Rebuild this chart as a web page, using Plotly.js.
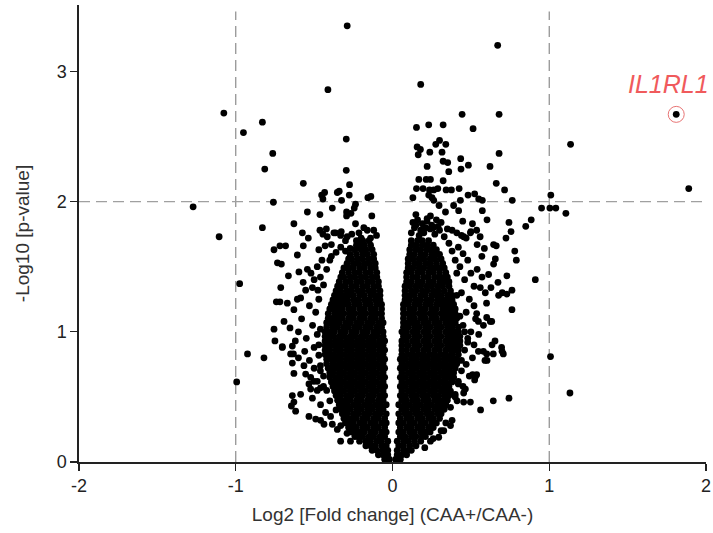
<!DOCTYPE html>
<html>
<head>
<meta charset="utf-8">
<script src="https://cdn.plot.ly/plotly-3.0.1.min.js"></script>
<style>html,body{margin:0;padding:0;background:#fff;}#chart{width:713px;height:533px;}</style>
</head>
<body>
<div id="chart"></div>
<script>
// ---- thresholds and ticks ----
const foldThresholds = [-1, 1];
const pThreshold = [2];
const xTickVals = [-2, -1, 0, 1, 2];
const xTickText = ['-2', '-1', '0', '1', '2'];
const yTickVals = [0, 1, 2, 3];
const yTickText = ['0', '1', '2', '3'];

// ---- highlighted gene ----
const highlightName = ['IL1RL1'];
const highlightX = [1.81];
const highlightY = [2.67];

// ---- dense core: rows of -log10 p, with log2 FC values in each row ----
const coreRowY = [0.02,0.055,0.09,0.125,0.16,0.195,0.23,0.265,0.30,0.335,0.37,0.405,0.44,0.475,0.51,0.545,0.58,0.615,0.65,0.685,0.72,0.755,0.79,0.825,0.86,0.895,0.93,0.965,1.00,1.035,1.07,1.105,1.14,1.175,1.21,1.245,1.28,1.315,1.35,1.385,1.42,1.455,1.49,1.525,1.56,1.595,1.63,1.665,1.70];
const coreLeftX = [
[-0.02,-0.05],
[-0.03,-0.06,-0.09],
[-0.03,-0.06,-0.10,-0.13],
[-0.04,-0.07,-0.11,-0.14,-0.17],
[-0.03,-0.07,-0.10,-0.14,-0.17,-0.21],
[-0.05,-0.08,-0.12,-0.15,-0.19,-0.22,-0.24],
[-0.04,-0.07,-0.11,-0.14,-0.18,-0.21,-0.24,-0.26],
[-0.05,-0.09,-0.12,-0.16,-0.19,-0.23,-0.26,-0.28],
[-0.04,-0.07,-0.11,-0.14,-0.18,-0.21,-0.25,-0.28,-0.30],
[-0.05,-0.09,-0.12,-0.16,-0.19,-0.23,-0.26,-0.29,-0.31],
[-0.04,-0.08,-0.11,-0.15,-0.18,-0.22,-0.25,-0.29,-0.32],
[-0.06,-0.09,-0.13,-0.16,-0.20,-0.23,-0.27,-0.30,-0.33],
[-0.04,-0.08,-0.11,-0.15,-0.18,-0.22,-0.25,-0.29,-0.32,-0.34],
[-0.06,-0.09,-0.13,-0.16,-0.20,-0.23,-0.27,-0.30,-0.33,-0.35],
[-0.05,-0.08,-0.12,-0.15,-0.19,-0.22,-0.26,-0.29,-0.33,-0.36],
[-0.06,-0.10,-0.13,-0.17,-0.20,-0.24,-0.27,-0.31,-0.34,-0.37],
[-0.05,-0.08,-0.12,-0.15,-0.19,-0.22,-0.26,-0.29,-0.33,-0.36,-0.38],
[-0.06,-0.10,-0.13,-0.17,-0.20,-0.24,-0.27,-0.31,-0.34,-0.37,-0.39],
[-0.05,-0.08,-0.12,-0.15,-0.19,-0.22,-0.26,-0.29,-0.33,-0.36,-0.40],
[-0.06,-0.10,-0.13,-0.17,-0.20,-0.24,-0.27,-0.31,-0.34,-0.38,-0.40],
[-0.05,-0.08,-0.12,-0.15,-0.19,-0.22,-0.26,-0.29,-0.33,-0.36,-0.39,-0.41],
[-0.06,-0.10,-0.13,-0.17,-0.20,-0.24,-0.27,-0.31,-0.34,-0.38,-0.42],
[-0.05,-0.08,-0.12,-0.15,-0.19,-0.22,-0.26,-0.29,-0.33,-0.36,-0.39,-0.42],
[-0.06,-0.10,-0.13,-0.17,-0.20,-0.24,-0.27,-0.31,-0.34,-0.38,-0.41,-0.43],
[-0.05,-0.08,-0.12,-0.15,-0.19,-0.22,-0.26,-0.29,-0.33,-0.36,-0.40,-0.43],
[-0.06,-0.10,-0.13,-0.17,-0.20,-0.24,-0.27,-0.31,-0.34,-0.38,-0.41,-0.43],
[-0.05,-0.08,-0.12,-0.15,-0.19,-0.22,-0.26,-0.29,-0.33,-0.36,-0.40,-0.43],
[-0.06,-0.10,-0.13,-0.17,-0.20,-0.24,-0.27,-0.31,-0.34,-0.38,-0.41,-0.43],
[-0.06,-0.09,-0.12,-0.16,-0.19,-0.23,-0.26,-0.30,-0.33,-0.37,-0.40,-0.43],
[-0.07,-0.10,-0.14,-0.17,-0.21,-0.24,-0.28,-0.31,-0.35,-0.38,-0.42],
[-0.06,-0.09,-0.13,-0.16,-0.20,-0.23,-0.27,-0.30,-0.34,-0.37,-0.40,-0.42],
[-0.07,-0.11,-0.14,-0.18,-0.21,-0.25,-0.28,-0.32,-0.35,-0.38,-0.41],
[-0.07,-0.10,-0.13,-0.17,-0.20,-0.24,-0.27,-0.31,-0.34,-0.37,-0.41],
[-0.07,-0.11,-0.14,-0.18,-0.21,-0.25,-0.28,-0.32,-0.35,-0.38,-0.40],
[-0.07,-0.10,-0.14,-0.17,-0.21,-0.24,-0.28,-0.31,-0.34,-0.37,-0.39],
[-0.08,-0.11,-0.15,-0.18,-0.22,-0.25,-0.29,-0.32,-0.35,-0.38],
[-0.08,-0.11,-0.14,-0.18,-0.21,-0.25,-0.28,-0.31,-0.34,-0.37],
[-0.08,-0.12,-0.15,-0.19,-0.22,-0.26,-0.29,-0.33,-0.36],
[-0.09,-0.12,-0.16,-0.19,-0.23,-0.26,-0.30,-0.33,-0.35],
[-0.09,-0.13,-0.16,-0.20,-0.23,-0.27,-0.30,-0.34],
[-0.10,-0.13,-0.17,-0.20,-0.24,-0.27,-0.31,-0.33],
[-0.10,-0.14,-0.17,-0.21,-0.24,-0.28,-0.32],
[-0.11,-0.14,-0.18,-0.21,-0.25,-0.28,-0.31],
[-0.11,-0.15,-0.18,-0.22,-0.25,-0.29],
[-0.12,-0.15,-0.19,-0.22,-0.26,-0.28],
[-0.12,-0.16,-0.19,-0.23,-0.27],
[-0.13,-0.17,-0.20,-0.24],
[-0.14,-0.18,-0.21,-0.23],
[-0.15,-0.19,-0.21]
];
const coreRightX = [
[0.02,0.05],
[0.03,0.06,0.09],
[0.03,0.07,0.10,0.12],
[0.04,0.07,0.11,0.15],
[0.03,0.07,0.10,0.14,0.18],
[0.05,0.08,0.12,0.15,0.19,0.21],
[0.04,0.07,0.11,0.14,0.18,0.21,0.24],
[0.05,0.09,0.12,0.16,0.19,0.23,0.26],
[0.04,0.07,0.11,0.14,0.18,0.21,0.25,0.28],
[0.05,0.09,0.12,0.16,0.19,0.23,0.26,0.30],
[0.04,0.08,0.11,0.15,0.18,0.22,0.25,0.29,0.31],
[0.06,0.09,0.13,0.16,0.20,0.23,0.27,0.30,0.33],
[0.04,0.08,0.11,0.15,0.18,0.22,0.25,0.29,0.32,0.34],
[0.06,0.09,0.13,0.16,0.20,0.23,0.27,0.30,0.33,0.35],
[0.05,0.08,0.12,0.15,0.19,0.22,0.26,0.29,0.33,0.36],
[0.06,0.10,0.13,0.17,0.20,0.24,0.27,0.31,0.34,0.37],
[0.05,0.08,0.12,0.15,0.19,0.22,0.26,0.29,0.33,0.36],
[0.06,0.10,0.13,0.17,0.20,0.24,0.27,0.31,0.34,0.38],
[0.05,0.08,0.12,0.15,0.19,0.22,0.26,0.29,0.33,0.36,0.39],
[0.06,0.10,0.13,0.17,0.20,0.24,0.27,0.31,0.34,0.37,0.39],
[0.05,0.08,0.12,0.15,0.19,0.22,0.26,0.29,0.33,0.36,0.40],
[0.06,0.10,0.13,0.17,0.20,0.24,0.27,0.31,0.34,0.38,0.41],
[0.05,0.08,0.12,0.15,0.19,0.22,0.26,0.29,0.33,0.36,0.39,0.41],
[0.06,0.10,0.13,0.17,0.20,0.24,0.27,0.31,0.34,0.38,0.42],
[0.06,0.09,0.13,0.16,0.20,0.23,0.27,0.30,0.34,0.37,0.40,0.42],
[0.06,0.10,0.14,0.17,0.21,0.24,0.28,0.31,0.35,0.38,0.41,0.43],
[0.06,0.09,0.13,0.16,0.20,0.23,0.27,0.30,0.34,0.37,0.40,0.43],
[0.07,0.10,0.14,0.17,0.21,0.24,0.28,0.31,0.35,0.38,0.41,0.43],
[0.06,0.09,0.13,0.16,0.20,0.23,0.27,0.30,0.34,0.37,0.40,0.42],
[0.07,0.10,0.14,0.17,0.21,0.24,0.28,0.31,0.35,0.38,0.42],
[0.07,0.10,0.13,0.16,0.20,0.23,0.27,0.30,0.34,0.37,0.40],
[0.07,0.11,0.14,0.18,0.21,0.25,0.28,0.32,0.35,0.38,0.41],
[0.07,0.10,0.13,0.17,0.20,0.24,0.27,0.31,0.34,0.37,0.40],
[0.07,0.11,0.14,0.18,0.21,0.25,0.28,0.32,0.35,0.38,0.40],
[0.07,0.10,0.14,0.17,0.21,0.24,0.28,0.31,0.34,0.37,0.39],
[0.08,0.11,0.15,0.18,0.22,0.25,0.29,0.32,0.35,0.38],
[0.08,0.11,0.14,0.18,0.21,0.25,0.28,0.31,0.35,0.38],
[0.08,0.12,0.15,0.19,0.22,0.26,0.29,0.33,0.37],
[0.08,0.11,0.15,0.18,0.22,0.25,0.29,0.32,0.36],
[0.09,0.12,0.16,0.19,0.23,0.26,0.30,0.33,0.36],
[0.09,0.13,0.16,0.20,0.23,0.27,0.30,0.33,0.35],
[0.09,0.12,0.16,0.19,0.23,0.26,0.30,0.34],
[0.10,0.13,0.17,0.20,0.24,0.27,0.30,0.33],
[0.10,0.14,0.17,0.21,0.24,0.28,0.32],
[0.10,0.13,0.17,0.20,0.24,0.27,0.31],
[0.11,0.14,0.18,0.21,0.25,0.28,0.30],
[0.11,0.15,0.18,0.22,0.25,0.28],
[0.12,0.15,0.19,0.22,0.26],
[0.12,0.16,0.19,0.23]
];

// ---- scattered genes: [log2 FC, -log10 p] ----
const leftOutliers = [
[-0.289,3.35],[-0.412,2.86],[-1.076,2.68],[-0.951,2.53],[-0.83,2.61],[-0.764,2.37],[-0.815,2.25],
[-0.295,2.48],[-0.295,2.24],[-1.272,1.96],[-1.106,1.73],[-0.76,1.995],[-0.83,1.80],[-0.975,1.37],
[-0.925,0.83],[-0.82,0.80],[-0.994,0.615]
];
const leftUpper = [
[-0.569,2.14],[-0.452,2.05],[-0.433,2.07],[-0.444,2.02],[-0.352,2.07],[-0.34,2.08],[-0.274,2.13],
[-0.276,2.05],[-0.325,2.01],[-0.157,2.03],[-0.138,2.04],[-0.543,1.92],[-0.463,1.90],[-0.384,1.95],
[-0.236,1.98],[-0.244,1.95],[-0.293,1.92],[-0.265,1.91],[-0.293,1.89],[-0.132,1.89],[-0.629,1.83],
[-0.575,1.76],[-0.537,1.72],[-0.463,1.78],[-0.444,1.75],[-0.422,1.79],[-0.363,1.76],[-0.327,1.77],
[-0.236,1.83],[-0.183,1.80],[-0.161,1.78],[-0.102,1.74],[-0.374,1.76],[-0.331,1.74],[-0.289,1.73],
[-0.416,1.73],[-0.214,1.76],[-0.12,1.78],[-0.20,1.72],[-0.26,1.75],[-0.14,1.72],[-0.23,1.70],[-0.30,1.70]
];
const leftMid = [
[-0.756,1.63],[-0.718,1.66],[-0.682,1.66],[-0.734,1.53],[-0.709,1.52],[-0.607,1.59],[-0.569,1.66],
[-0.664,1.43],[-0.597,1.46],[-0.543,1.48],[-0.713,1.34],[-0.741,1.23],[-0.718,1.23],[-0.671,1.22],
[-0.629,1.17],[-0.607,1.25],[-0.586,1.26],[-0.692,1.08],[-0.654,1.03],[-0.756,1.02],[-0.75,0.93],
[-0.703,0.88],[-0.554,1.32],[-0.511,1.34],[-0.476,1.32],
[-0.47,1.63],[-0.43,1.66],[-0.39,1.67],[-0.36,1.61],[-0.33,1.65],[-0.39,1.58],[-0.30,1.62],[-0.27,1.64],
[-0.52,1.45],[-0.50,1.40],[-0.48,1.50],[-0.46,1.42],[-0.53,1.20],[-0.49,1.15],[-0.47,1.25],[-0.51,1.05],
[-0.48,0.98],[-0.55,0.95],[-0.58,1.10],[-0.60,1.00],[-0.62,0.93],[-0.45,1.55],[-0.42,1.48],[-0.40,1.55],
[-0.57,1.38],[-0.44,1.36],[-0.50,0.88],[-0.47,0.82],[-0.53,0.78],[-0.50,0.72],[-0.46,0.70],[-0.48,0.62],
[-0.44,0.58],[-0.56,0.85],[-0.60,0.80],[-0.47,0.90],[-0.46,1.02]
];
const leftLower = [
[-0.703,0.885],[-0.639,0.89],[-0.65,0.83],[-0.632,0.83],[-0.639,0.76],[-0.629,0.68],[-0.565,0.74],
[-0.554,0.675],[-0.522,0.65],[-0.533,0.60],[-0.501,0.62],[-0.522,0.56],[-0.48,0.55],[-0.459,0.57],
[-0.639,0.51],[-0.586,0.52],[-0.629,0.46],[-0.645,0.43],[-0.618,0.39],[-0.533,0.35],[-0.49,0.33],
[-0.459,0.32],[-0.437,0.29],[-0.384,0.29],[-0.352,0.25],[-0.331,0.16],[-0.268,0.16],[-0.511,0.49],
[-0.459,0.44],[-0.427,0.38],[-0.395,0.35],[-0.29,0.22],[-0.33,0.28],[-0.36,0.40],[-0.40,0.47],
[-0.42,0.55],[-0.44,0.66],[-0.46,0.74]
];
const rightOutliers = [
[0.671,3.20],[0.18,2.90],[1.136,2.44],[1.89,2.10],[1.01,2.05],[0.951,1.95],[1.004,1.95],[1.042,1.95],
[1.106,1.91],[0.911,1.40],[1.008,0.81],[1.132,0.53]
];
const rightUpper = [
[0.444,2.67],[0.68,2.67],[0.153,2.57],[0.231,2.59],[0.323,2.59],[0.514,2.56],[0.30,2.47],[0.276,2.44],
[0.34,2.44],[0.157,2.42],[0.178,2.40],[0.238,2.38],[0.164,2.36],[0.316,2.38],[0.68,2.37],[0.323,2.31],
[0.352,2.30],[0.435,2.33],[0.437,2.25],[0.484,2.28],[0.221,2.27],[0.359,2.23],[0.622,2.27],[0.168,2.17],
[0.215,2.17],[0.242,2.17],[0.323,2.16],[0.662,2.14],[0.153,2.10],[0.195,2.10],[0.236,2.09],[0.263,2.09],
[0.289,2.10],[0.342,2.09],[0.376,2.09],[0.425,2.10],[0.482,2.05],[0.524,2.06],[0.715,2.09],[0.13,2.03],
[0.231,2.05],[0.252,2.03],[0.263,2.01],[0.297,1.97],[0.39,1.97],[0.433,2.01],[0.55,2.02],[0.573,2.01],
[0.764,2.01],[0.149,1.90],[0.242,1.89],[0.221,1.87],[0.338,1.92],[0.422,1.93],[0.573,1.93],[0.448,1.85],
[0.51,1.83],[0.603,1.86],[0.743,1.84],[0.85,1.81],[0.885,1.86],[0.756,1.77],[0.537,1.78],[0.559,1.73],
[0.724,1.72],
[0.15,1.82],[0.21,1.80],[0.26,1.80],[0.30,1.78],[0.35,1.79],[0.38,1.78],[0.41,1.76],[0.20,1.76],
[0.17,1.74],[0.27,1.75],[0.33,1.73],[0.44,1.74],[0.47,1.72],[0.50,1.77],[0.13,1.84],[0.16,1.86],
[0.19,1.83],[0.22,1.85],[0.25,1.82],[0.28,1.86],[0.31,1.84],[0.14,1.80],[0.18,1.78],[0.24,1.79],
[0.12,1.76],[0.29,1.81]
];
const rightMid = [
[0.762,1.17],[0.79,1.55],[0.78,1.62],[0.73,1.43],[0.673,1.38],[0.628,1.34],[0.762,1.32],[0.73,1.29],
[0.70,1.30],[0.677,1.28],[0.624,1.08],[0.645,1.52],[0.656,1.56],[0.662,1.66],[0.645,1.67],[0.586,1.64],
[0.54,1.67],[0.497,1.76],[0.454,1.73],[0.613,1.44],[0.571,1.42],[0.54,1.48],[0.56,1.34],[0.592,1.30],
[0.45,1.60],[0.48,1.55],[0.43,1.50],[0.50,1.45],[0.46,1.40],[0.44,1.30],[0.49,1.25],[0.52,1.20],
[0.47,1.15],[0.45,1.05],[0.50,1.00],[0.53,1.10],[0.55,0.98],[0.48,0.92],[0.52,1.35],[0.41,1.45],
[0.40,1.55],[0.42,1.65],[0.38,1.62],[0.36,1.68],[0.57,1.58],[0.60,1.22],[0.58,1.05],[0.46,1.00],
[0.43,1.12],[0.41,1.28]
];
const rightLower = [
[0.696,0.88],[0.707,0.83],[0.654,0.93],[0.643,0.83],[0.601,0.83],[0.59,0.78],[0.58,0.85],[0.548,0.85],
[0.633,1.08],[0.601,1.11],[0.537,1.14],[0.548,1.08],[0.527,0.65],[0.537,0.67],[0.743,0.49],[0.643,0.47],
[0.562,0.40],[0.497,0.46],[0.454,0.46],[0.412,0.47],[0.524,0.63],[0.511,0.67],[0.465,0.56],[0.454,0.53],
[0.40,0.52],[0.295,0.19],[0.242,0.16],[0.206,0.11],[0.38,0.32],[0.37,0.28],[0.327,0.24],[0.635,0.90],
[0.699,0.85],[0.603,0.78],[0.48,0.95],[0.52,0.90],[0.46,0.86],[0.51,0.80],[0.47,0.75],[0.44,0.70],
[0.49,0.66],[0.42,0.62],[0.45,0.58],[0.26,0.18],[0.31,0.24],[0.34,0.30],[0.37,0.42],[0.40,0.50],
[0.42,0.60],[0.44,0.78]
];

// ---- build flat arrays for plotting ----
const allX = [], allY = [];
coreRowY.forEach((y, i) => {
  (coreLeftX[i] || []).forEach(x => { allX.push(x); allY.push(y); });
  (coreRightX[i] || []).forEach(x => { allX.push(x); allY.push(y); });
});
[leftOutliers, leftUpper, leftMid, leftLower, rightOutliers, rightUpper, rightMid, rightLower].forEach(g => {
  g.forEach(p => { allX.push(p[0]); allY.push(p[1]); });
});
allX.push(highlightX[0]); allY.push(highlightY[0]);

const FONT = 'Liberation Sans, Arial, sans-serif';

const traces = [
  {
    type: 'scatter', mode: 'markers', x: allX, y: allY,
    marker: {color: '#000', size: 6.8, line: {width: 0}},
    hoverinfo: 'x+y'
  },
  {
    type: 'scatter', mode: 'markers', x: highlightX, y: highlightY,
    marker: {symbol: 'circle-open', size: 16, color: '#e87474', line: {width: 1, color: '#e87474'}},
    hoverinfo: 'text', text: highlightName
  }
];

const dashLine = {color: '#8c8c8c', width: 1.2, dash: '11px,6px'};
const shapes = [];
foldThresholds.forEach(v => shapes.push({type: 'line', layer: 'below', xref: 'x', yref: 'y', x0: v, x1: v, y0: 0, y1: 3.46, line: dashLine}));
pThreshold.forEach(v => shapes.push({type: 'line', layer: 'below', xref: 'x', yref: 'y', x0: -2, x1: 2, y0: v, y1: v, line: {color: '#a0a0a0', width: 1.2, dash: '11px,6px'}}));

const layout = {
  width: 713, height: 533,
  margin: {l: 79, r: 7, t: 5, b: 71},
  paper_bgcolor: '#fff', plot_bgcolor: '#fff',
  showlegend: false,
  font: {family: FONT, size: 18, color: '#222'},
  xaxis: {
    range: [-2, 2], tickmode: 'array', tickvals: xTickVals, ticktext: xTickText,
    ticks: 'outside', ticklen: 7, tickwidth: 1.3, tickcolor: '#222',
    showline: true, linecolor: '#222', linewidth: 1.6, mirror: false,
    showgrid: false, zeroline: false,
    tickfont: {family: FONT, size: 18, color: '#222'},
    title: {text: 'Log2 [Fold change] (CAA+/CAA-)', font: {family: FONT, size: 19, color: '#333'}, standoff: 12}
  },
  yaxis: {
    range: [0, 3.51], tickmode: 'array', tickvals: yTickVals, ticktext: yTickText,
    ticks: 'outside', ticklen: 7, tickwidth: 1.3, tickcolor: '#222',
    showline: true, linecolor: '#222', linewidth: 1.6, mirror: false,
    showgrid: false, zeroline: false,
    tickfont: {family: FONT, size: 18, color: '#222'},
    title: {text: '-Log10 [p-value]', font: {family: FONT, size: 19, color: '#333'}, standoff: 22}
  },
  shapes: shapes,
  annotations: [{
    xref: 'x', yref: 'y', x: 1.763, y: 2.90, text: '<i>' + highlightName[0] + '</i>',
    showarrow: false, xanchor: 'center', yanchor: 'middle',
    font: {family: FONT, size: 25, color: '#f05a5c'}
  }]
};

Plotly.newPlot('chart', traces, layout, {displayModeBar: false, staticPlot: true});
</script>
</body>
</html>
